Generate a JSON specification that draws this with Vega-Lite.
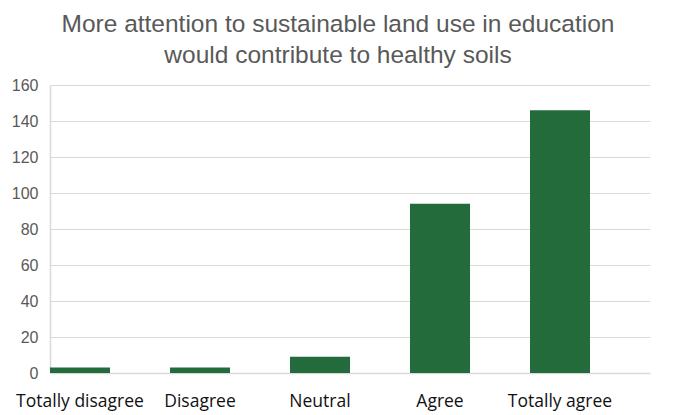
{
  "$schema": "https://vega.github.io/schema/vega-lite/v6.json",
  "autosize": "none",
  "width": 600,
  "height": 288,
  "padding": {"left": 50, "top": 85, "right": 30, "bottom": 42},
  "background": "white",
  "title": {
    "text": ["More attention to sustainable land use in education", "would contribute to healthy soils"],
    "font": "Liberation Sans",
    "fontSize": 24.5,
    "fontWeight": "normal",
    "color": "#595959",
    "lineHeight": 31,
    "anchor": "middle",
    "offset": 9,
    "dx": -12
  },
  "data": {
    "values": [
      {"answer": "Totally disagree", "count": 3},
      {"answer": "Disagree", "count": 3},
      {"answer": "Neutral", "count": 9},
      {"answer": "Agree", "count": 94},
      {"answer": "Totally agree", "count": 146}
    ]
  },
  "mark": {"type": "bar", "color": "#236B3A"},
  "encoding": {
    "x": {
      "field": "answer",
      "type": "nominal",
      "sort": null,
      "scale": {"paddingInner": 0.5, "paddingOuter": 0.25, "align": 0},
      "axis": {
        "title": null,
        "labelAngle": 0,
        "labelFont": "Open Sans",
        "labelFontSize": 17.5,
        "labelColor": "#111111",
        "labelPadding": 19,
        "labelOverlap": false,
        "ticks": false,
        "domainColor": "#d9d9d9",
        "domainWidth": 1.5,
        "grid": false
      }
    },
    "y": {
      "field": "count",
      "type": "quantitative",
      "scale": {"domain": [0, 160]},
      "axis": {
        "title": null,
        "values": [0, 20, 40, 60, 80, 100, 120, 140, 160],
        "labelFont": "Liberation Sans",
        "labelFontSize": 16,
        "labelColor": "#595959",
        "labelPadding": 12,
        "ticks": false,
        "domainColor": "#d9d9d9",
        "domainWidth": 1.5,
        "gridColor": "#d9d9d9",
        "gridWidth": 1.2
      }
    }
  },
  "config": {"view": {"stroke": null}}
}
